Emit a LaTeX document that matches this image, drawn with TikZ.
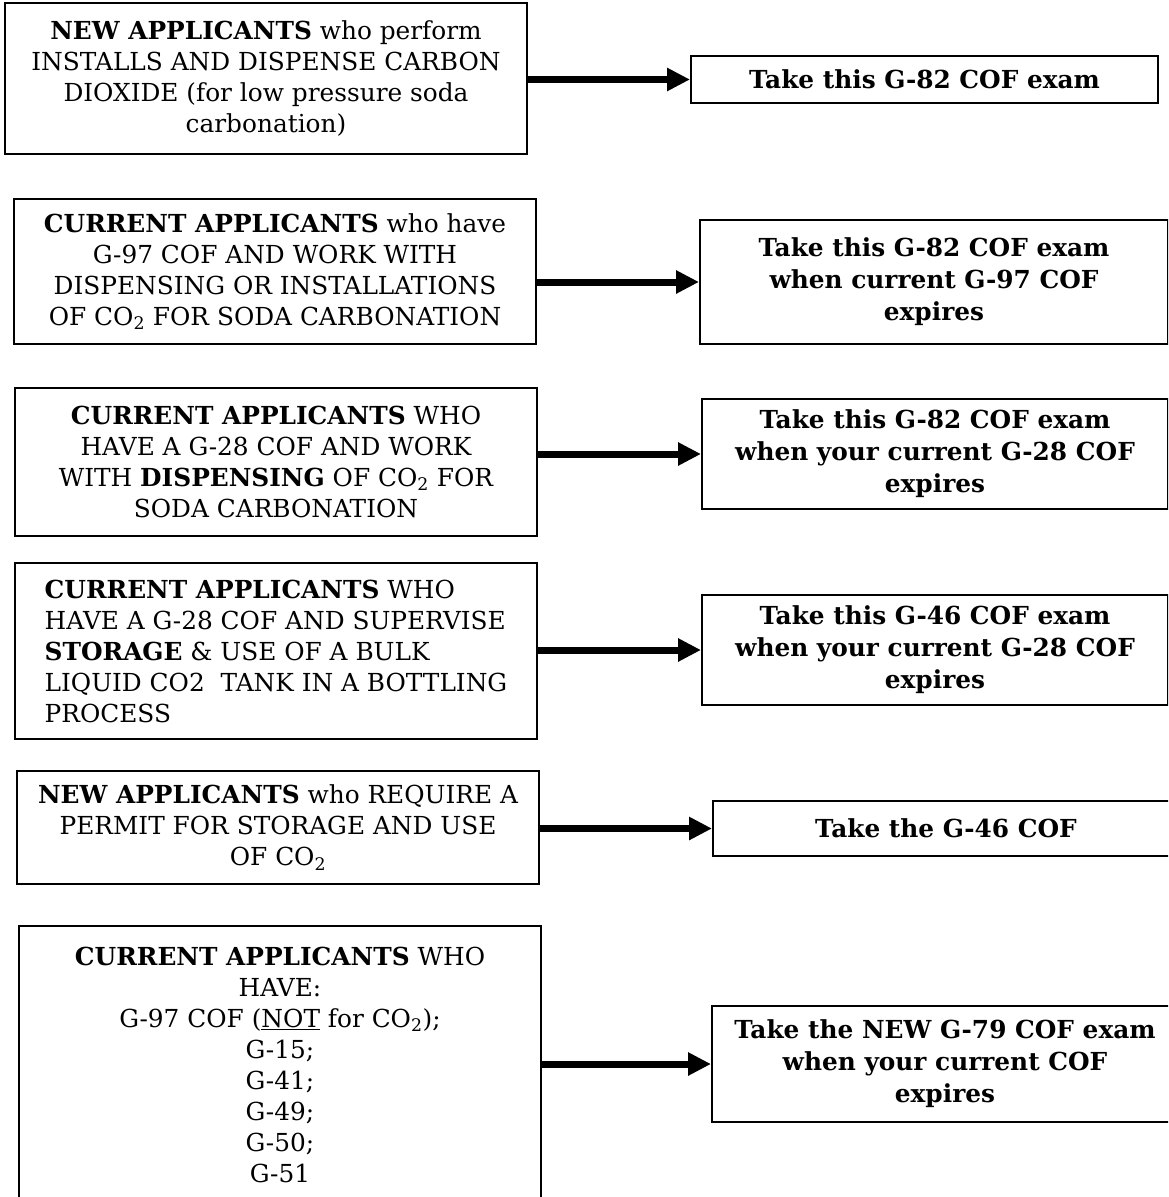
\documentclass[tikz,border=0pt]{standalone}
\usepackage{fontspec}
\setmainfont{DejaVu Serif}
\usetikzlibrary{arrows.meta}

\tikzset{
  applicant/.style={draw, line width=2pt, minimum width=522pt, inner sep=0pt, align=center, font=\fontsize{24.8}{31}\selectfont},
  exambox/.style={draw, line width=2pt, minimum width=466pt, inner sep=0pt, align=center, font=\fontsize{24.8}{32}\selectfont\bfseries},
  flow/.style={line width=7pt, -{Triangle[length=23pt,width=22pt]}}
}

\begin{document}
\begin{tikzpicture}[x=1pt,y=1pt,yscale=-1]
\useasboundingbox (0,0) rectangle (1168,1197);
\clip (0,0) rectangle (1168,1197);

% applicant boxes (left)
\node[applicant, minimum height=151pt] (newinst) at (266,78.5) {\textbf{NEW APPLICANTS} who perform\\INSTALLS AND DISPENSE CARBON\\DIOXIDE (for low pressure soda\\carbonation)};
\node[applicant, minimum height=145pt] (curgnine) at (275,271.5) {\textbf{CURRENT APPLICANTS} who have\\G-97 COF AND WORK WITH\\DISPENSING OR INSTALLATIONS\\OF CO\textsubscript{2} FOR SODA CARBONATION};
\node[applicant, minimum height=148pt] (curgdisp) at (276,462) {\textbf{CURRENT APPLICANTS} WHO\\HAVE A G-28 COF AND WORK\\WITH \textbf{DISPENSING} OF CO\textsubscript{2} FOR\\SODA CARBONATION};
\node[applicant, minimum height=176pt, align=left] (curgstor) at (276,651) {\textbf{CURRENT APPLICANTS} WHO\\HAVE A G-28 COF AND SUPERVISE\\\textbf{STORAGE} \& USE OF A BULK\\LIQUID CO2\ \ TANK IN A BOTTLING\\PROCESS};
\node[applicant, minimum height=113pt] (newperm) at (278,827.5) {\textbf{NEW APPLICANTS} who REQUIRE A\\PERMIT FOR STORAGE AND USE\\OF CO\textsubscript{2}};
\node[applicant, minimum height=278pt] (curother) at (280,1065) {\textbf{CURRENT APPLICANTS} WHO\\HAVE:\\G-97 COF (\underline{NOT} for CO\textsubscript{2});\\G-15;\\G-41;\\G-49;\\G-50;\\G-51};

% exam boxes (right)
\node[exambox, minimum width=467pt, minimum height=47pt] (examone) at (924.5,79.5) {Take this G-82 COF exam};
\node[exambox, minimum width=468pt, minimum height=124pt] (examtwo) at (934,282) {Take this G-82 COF exam\\when current G-97 COF\\expires};
\node[exambox, minimum height=110pt] (examthree) at (935,454) {Take this G-82 COF exam\\when your current G-28 COF\\expires};
\node[exambox, minimum height=110pt] (examfour) at (935,650) {Take this G-46 COF exam\\when your current G-28 COF\\expires};
\node[exambox, minimum height=55pt] (examfive) at (946,828.5) {Take the G-46 COF};
\node[exambox, minimum height=116pt] (examsix) at (945,1064) {Take the NEW G-79 COF exam\\when your current COF\\expires};

% arrows
\draw[flow] (newinst.east |- examone.west) -- (examone.west);
\draw[flow] (curgnine.east |- examtwo.west) -- (examtwo.west);
\draw[flow] (curgdisp.east |- examthree.west) -- (examthree.west);
\draw[flow] (curgstor.east |- examfour.west) -- (examfour.west);
\draw[flow] (newperm.east |- examfive.west) -- (examfive.west);
\draw[flow] (curother.east |- examsix.west) -- (examsix.west);

\end{tikzpicture}
\end{document}
